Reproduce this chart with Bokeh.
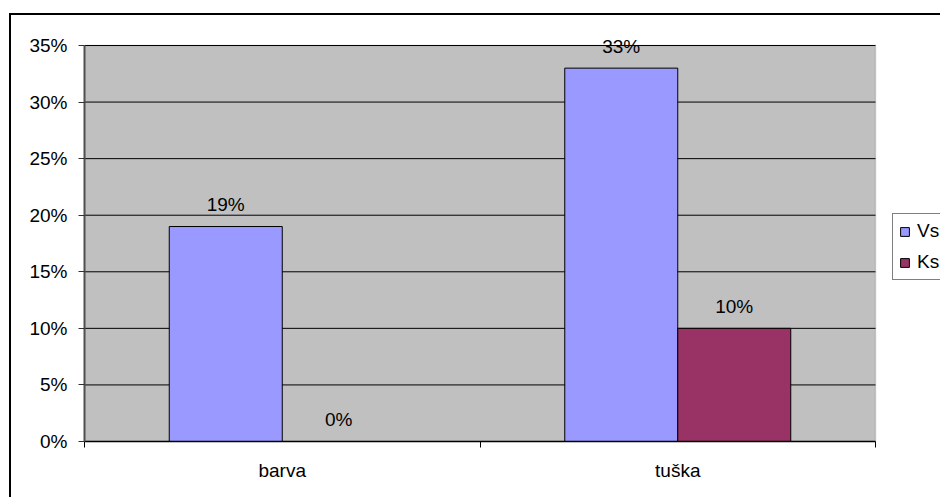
from bokeh.plotting import figure
from bokeh.layouts import column
from bokeh.models import (Range1d, FixedTicker, NumeralTickFormatter,
                          ColumnDataSource, Legend, LegendItem, BoxAnnotation)
from bokeh.transform import dodge
from bokeh.core.properties import value
from bokeh.embed import file_html
from bokeh.resources import INLINE

categories = ["barva", "tuška"]
series_names = ["Vs", "Ks"]
vs_values = [0.19, 0.33]
ks_values = [0.00, 0.10]
colors = ["#9999FF", "#993366"]
y_ticks = [0.0, 0.05, 0.10, 0.15, 0.20, 0.25, 0.30, 0.35]
y_max = 0.35

FONT = "Liberation Sans"
FS = "19px"

n = len(categories)
centers = [i + 0.5 for i in range(n)]

# geometry (pixels inside the figure canvas)
W, H = 929, 482
LEFT, BOTTOM = 73, 56
AREA_W, AREA_H = 791, 396          # visible grey plot area
frame_w, frame_h = W - LEFT, H - BOTTOM

p = figure(width=W, height=H, output_backend="svg", toolbar_location=None,
           x_range=Range1d(0, n * frame_w / AREA_W),
           y_range=Range1d(0, y_max * frame_h / AREA_H),
           min_border=0, min_border_left=LEFT, min_border_bottom=BOTTOM)
p.background_fill_color = "white"
p.border_fill_color = "white"
p.outline_line_color = None

# grey plot area
p.add_layout(BoxAnnotation(left=0, right=n, bottom=0, top=y_max, level="image",
                           fill_color="#C0C0C0", fill_alpha=1,
                           line_color="#808080", line_width=1.5))

# horizontal gridlines limited to the plot area
p.xgrid.grid_line_color = None
p.ygrid.grid_line_color = None
p.segment(x0=[0] * len(y_ticks), x1=[n] * len(y_ticks), y0=y_ticks, y1=y_ticks,
          line_color="black", line_width=1, level="underlay")

src = ColumnDataSource(dict(
    x=centers, cat=categories, vs=vs_values, ks=ks_values,
    vs_lab=[f"{round(v*100)}%" for v in vs_values],
    ks_lab=[f"{round(v*100)}%" for v in ks_values],
))

bw = 1 / 3.5
r_vs = p.vbar(x=dodge("x", -bw / 2), top="vs", width=bw, source=src,
              fill_color=colors[0], line_color="black", line_width=1)
r_ks = p.vbar(x=dodge("x", bw / 2), top="ks", width=bw, source=src,
              fill_color=colors[1], line_color="black", line_width=1)

for off, col in ((-bw / 2, "vs"), (bw / 2, "ks")):
    p.text(x=dodge("x", off), y=col, text=col + "_lab", source=src,
           text_align="center", text_baseline="middle", y_offset=-22,
           text_font=value(FONT), text_font_size=FS, text_color="black")

# y axis
ya = p.yaxis[0]
ya.bounds = (0, y_max)
ya.ticker = FixedTicker(ticks=y_ticks)
ya.formatter = NumeralTickFormatter(format="0%")
ya.major_tick_out = 6
ya.major_tick_in = 0
ya.minor_tick_line_color = None
ya.major_label_standoff = 11
ya.major_label_text_font = FONT
ya.major_label_text_font_size = FS
ya.major_label_text_color = "black"
ya.axis_line_color = "#505050"
ya.axis_line_width = 2
ya.major_tick_line_color = "#303030"

# x axis: labels at category centres, tick marks at category boundaries
xa = p.xaxis[0]
xa.bounds = (0, n)
xa.ticker = FixedTicker(ticks=centers, minor_ticks=list(range(n + 1)))
xa.major_label_overrides = {c: lab for c, lab in zip(centers, categories)}
xa.major_tick_out = 0
xa.major_tick_in = 0
xa.major_tick_line_color = None
xa.minor_tick_out = 6
xa.minor_tick_in = 0
xa.minor_tick_line_color = "black"
xa.axis_line_color = "black"
xa.axis_line_width = 1.5
xa.major_label_standoff = 12
xa.major_label_text_font = FONT
xa.major_label_text_font_size = FS
xa.major_label_text_color = "black"

legend = Legend(items=[LegendItem(label=series_names[0], renderers=[r_vs]),
                       LegendItem(label=series_names[1], renderers=[r_ks])],
                location=(808, 161), orientation="vertical",
                padding=6, spacing=9, margin=0,
                glyph_width=11, glyph_height=11, label_height=20, label_standoff=7,
                label_text_font=FONT, label_text_font_size=FS, label_text_color="black",
                border_line_color="black", border_line_width=1,
                background_fill_color="white", background_fill_alpha=1)
p.add_layout(legend)

# outer chart-area border (left and top edges visible in the window)
root = column(p, styles={"margin-left": "9px", "margin-top": "13px",
                         "border-left": "2px solid black", "border-top": "2px solid black"})

open("out.html", "w").write(file_html(root, INLINE))
